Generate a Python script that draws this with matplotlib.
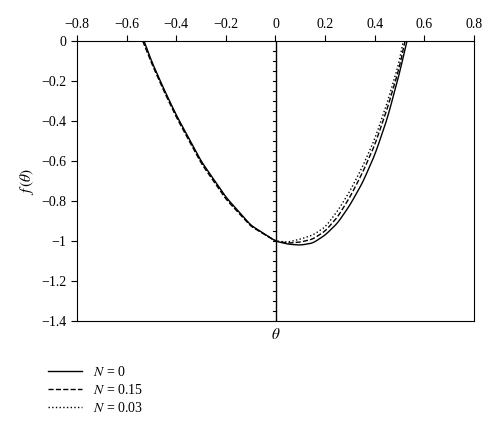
import matplotlib
matplotlib.use('Agg')
import matplotlib.pyplot as plt
import numpy as np

plt.rcParams['font.family'] = 'Liberation Serif'
plt.rcParams['mathtext.fontset'] = 'stix'

# N = 0
x0 = [-0.53, -0.5, -0.45, -0.4, -0.3, -0.2, -0.1, 0.0, 0.05, 0.1, 0.15, 0.2, 0.25, 0.3, 0.35, 0.4, 0.45, 0.5, 0.53]
y0 = [0.0, -0.1, -0.24, -0.37, -0.6, -0.78, -0.92, -1.0, -1.015, -1.02, -1.01, -0.97, -0.91, -0.82, -0.71, -0.57, -0.39, -0.16, 0.0]
# N = 0.15
x1 = [-0.535, -0.5, -0.45, -0.4, -0.3, -0.2, -0.1, 0.0, 0.05, 0.1, 0.15, 0.2, 0.25, 0.3, 0.35, 0.4, 0.45, 0.5, 0.522]
y1 = [0.0, -0.11, -0.25, -0.38, -0.61, -0.79, -0.925, -1.0, -1.01, -1.005, -0.99, -0.95, -0.88, -0.78, -0.66, -0.52, -0.34, -0.13, 0.0]
# N = 0.03
x2 = [-0.535, -0.5, -0.45, -0.4, -0.3, -0.2, -0.1, 0.0, 0.05, 0.1, 0.15, 0.2, 0.25, 0.3, 0.35, 0.4, 0.45, 0.5, 0.515]
y2 = [0.0, -0.105, -0.245, -0.375, -0.605, -0.785, -0.922, -1.0, -1.005, -0.99, -0.97, -0.93, -0.85, -0.75, -0.63, -0.49, -0.31, -0.1, 0.0]

labels = ['$N$ = 0', '$N$ = 0.15', '$N$ = 0.03']
styles = ['-', '--', ':']

fig = plt.figure(figsize=(5, 4.4), dpi=100)
ax = fig.add_axes([0.154, 0.27, 0.794, 0.637])

handles = []
for x, y, ls, lab in zip([x0, x1, x2], [y0, y1, y2], styles, labels):
    xs = np.linspace(x[0], x[-1], 400)
    ys = np.interp(xs, x, y)
    k = np.ones(11) / 11
    ys_s = np.convolve(np.pad(ys, 5, mode='reflect', reflect_type='odd'), k, mode='valid')
    h, = ax.plot(xs, ys_s, ls=ls, color='k', lw=1.0)
    handles.append(h)

ax.set_xlim(-0.8, 0.8)
ax.set_ylim(-1.4, 0)
ax.axvline(0, color='k', lw=1.0)
ax.xaxis.tick_top()
ax.set_xticks(np.arange(-0.8, 0.81, 0.2))
ax.set_xticklabels(['\u22120.8', '\u22120.6', '\u22120.4', '\u22120.2', '0', '0.2', '0.4', '0.6', '0.8'])
ax.set_yticks(np.arange(-1.4, 0.01, 0.2))
ax.set_yticklabels(['\u22121.4', '\u22121.2', '\u22121', '\u22120.8', '\u22120.6', '\u22120.4', '\u22120.2', '0'])
ax.tick_params(labelsize=10, direction='out', length=4)

# minor ticks along the center vertical line
for yt in np.arange(-1.4, 0.0, 0.05):
    ax.plot([-0.012, 0], [yt, yt], color='k', lw=0.8)

ax.set_ylabel(r'$f\,(\theta)$', fontsize=11)
ax.text(0, -1.43, r'$\theta$', ha='center', va='top', fontsize=11)

fig.legend(handles, labels, loc='upper left', bbox_to_anchor=(0.07, 0.2),
           frameon=False, fontsize=10, handlelength=2.5, labelspacing=0.3)

fig.savefig('out.png', dpi=100)
